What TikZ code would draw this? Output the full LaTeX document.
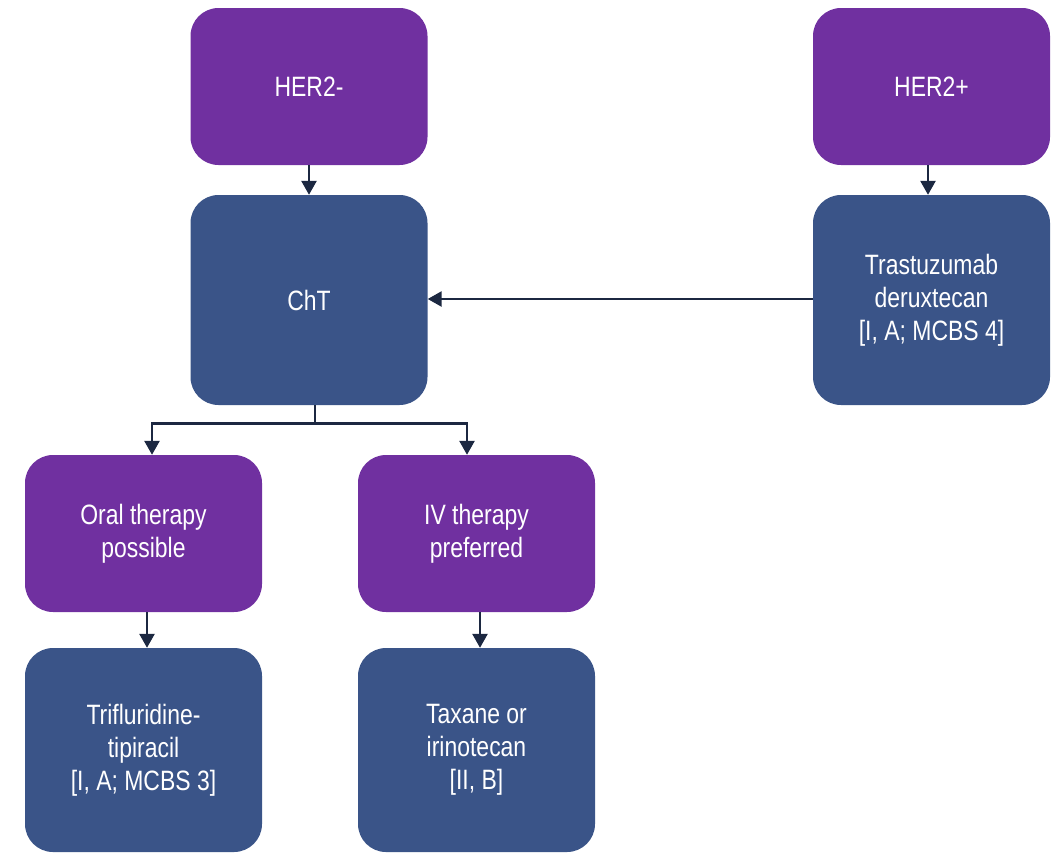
\documentclass[tikz,border=0pt]{standalone}
\usepackage{fontspec}
\setmainfont{Liberation Sans}[FakeStretch=0.82]
\usetikzlibrary{arrows.meta, positioning, calc}
\definecolor{purplebox}{HTML}{7030A0}
\definecolor{bluebox}{HTML}{3A5488}
\definecolor{arrowc}{HTML}{1C2841}

\begin{document}
\begin{tikzpicture}[
        x=1pt, y=-1pt,
        box/.style={rectangle, rounded corners=28pt, draw=none, text=white,
                    minimum width=237pt, align=center, inner sep=4pt,
                    font=\fontsize{28}{33}\selectfont},
        pbox/.style={box, fill=purplebox, minimum height=157pt},
        bbox/.style={box, fill=bluebox},
        arr/.style={-{Triangle[length=14pt, width=15pt]}, line width=2.6pt, arrowc}
      ]
        \useasboundingbox (0,0) rectangle (1054,854);
        % top row
        \node[pbox] (her2neg) at (309,86.5) {HER2-};
        \node[pbox] (her2pos) at (931.5,86.5) {HER2+};
        % first treatments
        \node[bbox, minimum height=210pt] (cht) at (309,300) {ChT};
        \node[bbox, minimum height=210pt] (tdxd) at (931.5,300) {Trastuzumab\\deruxtecan\\{[I, A; MCBS 4]}};
        % route of administration
        \node[pbox] (oral) at (143.5,533.5) {Oral therapy\\possible};
        \node[pbox] (iv) at (476.5,533.5) {IV therapy\\preferred};
        % later lines
        \node[bbox, minimum height=204pt] (ftd) at (143.5,750) {Trifluridine-\\tipiracil\\{[I, A; MCBS 3]}};
        \node[bbox, minimum height=204pt] (taxane) at (476.5,750) {Taxane or\\irinotecan\\{[II, B]}};
        \draw[arr] (her2neg) -- (cht);
        \draw[arr] ([xshift=-3.5pt]her2pos.south) -- ([xshift=-3.5pt]tdxd.north);
        \draw[arr] (tdxd.west |- 0,299) -- (cht.east |- 0,299);
        \coordinate (split) at ($(cht.south)+(6,18)$);
        \draw[line width=2.6pt, arrowc] ([xshift=6pt]cht.south) -- (split);
        \draw[arr] (split) -| ([xshift=8.5pt]oral.north);
        \draw[arr] (split) -| ([xshift=-9.5pt]iv.north);
        \draw[arr] ([xshift=3.5pt]oral.south) -- ([xshift=3.5pt]ftd.north);
        \draw[arr] ([xshift=3.5pt]iv.south) -- ([xshift=3.5pt]taxane.north);
      \end{tikzpicture}
\end{document}
